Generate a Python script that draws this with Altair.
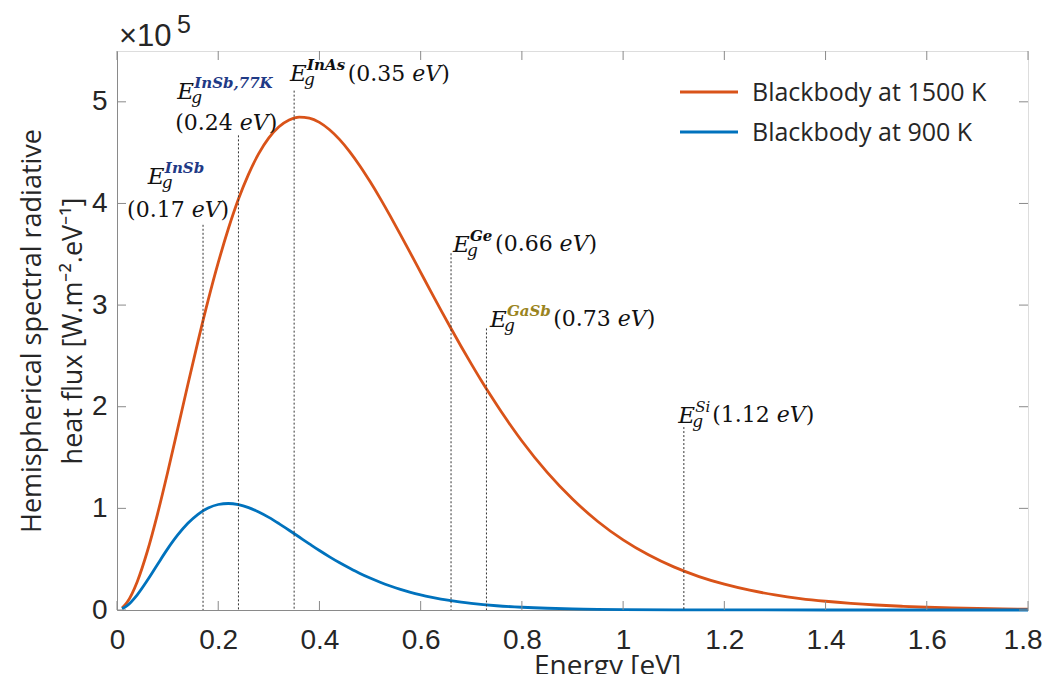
import altair as alt
import pandas as pd

# ---------------- data ----------------
series_names = ["Blackbody at 1500 K", "Blackbody at 900 K"]
series_colors = ["#D95319", "#0072BD"]

energy_1500 = [0.01, 0.02, 0.04, 0.06, 0.08, 0.10, 0.12, 0.14, 0.16, 0.18, 0.20, 0.22, 0.24,
               0.26, 0.28, 0.30, 0.32, 0.34, 0.36, 0.38, 0.40, 0.42, 0.44, 0.46, 0.48, 0.50,
               0.52, 0.54, 0.56, 0.58, 0.60, 0.62, 0.64, 0.66, 0.68, 0.70, 0.72, 0.74, 0.76,
               0.78, 0.80, 0.85, 0.90, 0.95, 1.00, 1.05, 1.10, 1.15, 1.20, 1.25, 1.30, 1.35,
               1.40, 1.45, 1.50, 1.55, 1.60, 1.65, 1.70, 1.75, 1.80]
flux_1500 = [0.020, 0.076, 0.279, 0.578, 0.944, 1.353, 1.784, 2.219, 2.643, 3.046, 3.417, 3.751,
             4.043, 4.289, 4.490, 4.645, 4.755, 4.822, 4.850, 4.840, 4.798, 4.725, 4.628, 4.508,
             4.369, 4.215, 4.050, 3.875, 3.694, 3.509, 3.322, 3.135, 2.951, 2.770, 2.593, 2.422,
             2.256, 2.097, 1.945, 1.801, 1.663, 1.354, 1.092, 0.871, 0.690, 0.543, 0.424, 0.329,
             0.254, 0.195, 0.149, 0.113, 0.086, 0.065, 0.049, 0.037, 0.027, 0.020, 0.015, 0.011,
             0.008]

energy_900 = [0.01, 0.02, 0.04, 0.06, 0.08, 0.10, 0.12, 0.14, 0.16, 0.18, 0.20, 0.22, 0.24,
              0.26, 0.28, 0.30, 0.32, 0.34, 0.36, 0.38, 0.40, 0.42, 0.44, 0.46, 0.48, 0.50,
              0.52, 0.54, 0.56, 0.58, 0.60, 0.62, 0.64, 0.66, 0.68, 0.70, 0.75, 0.80, 0.85,
              0.90, 0.95, 1.00, 1.10, 1.20, 1.40, 1.60, 1.80]
flux_900 = [0.012, 0.043, 0.150, 0.292, 0.448, 0.601, 0.738, 0.853, 0.942, 1.003, 1.038, 1.048,
            1.036, 1.007, 0.964, 0.911, 0.850, 0.785, 0.718, 0.651, 0.585, 0.523, 0.464, 0.410,
            0.359, 0.314, 0.273, 0.236, 0.203, 0.174, 0.149, 0.127, 0.108, 0.092, 0.077, 0.065,
            0.042, 0.027, 0.017, 0.011, 0.007, 0.004, 0.0015, 0.0005, 0.0001, 0.0, 0.0]

# band-gap markers
gap_materials = ["InSb", "InSb,77K", "InAs", "Ge", "GaSb", "Si"]
gap_energy = [0.17, 0.24, 0.35, 0.66, 0.73, 1.12]
gap_line_top = [3.79, 4.67, 5.11, 3.51, 2.77, 1.80]
gap_value_text = ["(0.17 ", "(0.24 ", "(0.35 ", "(0.66 ", "(0.73 ", "(1.12 "]
# where the labels sit (in data units)
label_e_x = [0.061, 0.119, 0.342, 0.664, 0.737, 1.109]
label_e_y = [4.19, 5.03, 5.20, 3.52, 2.78, 1.84]
label_val_x = [0.020, 0.115, 0.456, 0.747, 0.862, 1.176]
label_val_y = [3.87, 4.72, 5.20, 3.53, 2.79, 1.85]
label_group = ["blue", "blue", "black", "black", "olive", "plain"]

x_ticks = [0, 0.2, 0.4, 0.6, 0.8, 1.0, 1.2, 1.4, 1.6, 1.8]
y_ticks = [0, 1, 2, 3, 4, 5]

# ---------------- layout / style ----------------
W, H = 911, 559
AX = "#8a8a8a"
TXT = "#262626"
SERIF = "DejaVu Serif"
xs = alt.Scale(domain=[0, 1.8], nice=False, zero=False)
ys = alt.Scale(domain=[0, 5.5], nice=False, zero=False)

last_x = "datum.value >= 1.79"
x_axis = alt.Axis(values=x_ticks, format="~g", grid=False, ticks=False, tickSize=0,
                  domainColor=AX, labelFont="Liberation Sans", labelFontSize=28,
                  labelColor=TXT, labelPadding=16, title="Energy [eV]",
                  labelAlign={"condition": {"test": last_x, "value": "right"}, "value": "center"},
                  labelOffset={"condition": {"test": last_x, "value": 14}, "value": 0},
                  titleFont="Open Sans", titleFontSize=28, titleFontWeight="normal",
                  titleColor=TXT, titleX=490, titleY=64, titleBaseline="alphabetic",
                  titleAlign="center", labelFlush=False)
y_axis = alt.Axis(values=y_ticks, format="~g", grid=False, ticks=False, tickSize=0,
                  domainColor=AX, labelFont="Liberation Sans", labelFontSize=28,
                  labelColor=TXT, labelPadding=10,
                  title=["Hemispherical spectral radiative", "heat flux [W.m\u207b\u00b2.eV\u207b\u00b9]"],
                  titleFont="Open Sans", titleFontSize=27, titleFontWeight="normal",
                  titleColor=TXT, titleAngle=270, titleX=-85, titleY=H / 2,
                  titleBaseline="middle", titleAlign="center", titleLineHeight=41)


def X(f):
    return alt.X(f, scale=xs, axis=x_axis)


def Y(f):
    return alt.Y(f, scale=ys, axis=y_axis)


curve_df = pd.concat([
    pd.DataFrame({"E": energy_1500, "v": flux_1500, "series": series_names[0]}),
    pd.DataFrame({"E": energy_900, "v": flux_900, "series": series_names[1]}),
])

gap_df = pd.DataFrame({"E": gap_energy, "v": gap_line_top})
lab_df = pd.DataFrame({"E": label_e_x, "v": label_e_y, "sup": gap_materials, "grp": label_group})
val_df = pd.DataFrame({"E": label_val_x, "v": label_val_y, "t": gap_value_text})

curves = alt.Chart(curve_df).mark_line(strokeWidth=2.8, interpolate="monotone").encode(
    x=X("E:Q"),
    y=Y("v:Q"),
    color=alt.Color("series:N", scale=alt.Scale(domain=series_names, range=series_colors),
                    legend=None),
)

gap_lines = alt.Chart(gap_df).mark_rule(strokeDash=[2, 2], color="#333333", strokeWidth=1).encode(
    x=X("E:Q"),
    y=Y("v:Q"),
    y2=alt.datum(0),
)

# inward MATLAB style ticks
xt_df = pd.DataFrame({"E": x_ticks})
yt_df = pd.DataFrame({"v": y_ticks})
bt = alt.Chart(xt_df).mark_rule(color=AX, strokeWidth=1).encode(
    x=X("E:Q"), y=alt.value(H), y2=alt.value(H - 9))
tt = alt.Chart(xt_df).mark_rule(color=AX, strokeWidth=1).encode(
    x=X("E:Q"), y=alt.value(0), y2=alt.value(9))
lt = alt.Chart(yt_df).mark_rule(color=AX, strokeWidth=1).encode(
    y=Y("v:Q"), x=alt.value(0), x2=alt.value(9))
rt = alt.Chart(yt_df).mark_rule(color=AX, strokeWidth=1).encode(
    y=Y("v:Q"), x=alt.value(W - 9), x2=alt.value(W))


def txt(df, field, **kw):
    return alt.Chart(df).mark_text(align="left", baseline="alphabetic", font=SERIF, **kw).encode(
        x=X("E:Q"),
        y=Y("v:Q"),
        text=alt.Text(f"{field}:N"),
    )


e_letters = txt(lab_df.assign(e="E"), "e", fontSize=23, fontStyle="italic", color="#111111")
g_letters = txt(lab_df.assign(g="g"), "g", fontSize=17, fontStyle="italic", color="#111111",
                dx=14, dy=4)
sup_layers = []
sup_colors = {"blue": "#1F3A86", "black": "#111111", "olive": "#9A8420"}
for grp, col in sup_colors.items():
    sup_layers.append(txt(lab_df[lab_df.grp == grp], "sup", fontSize=15, fontStyle="italic",
                          fontWeight="bold", color=col, dx=17, dy=-11))
sup_layers.append(txt(lab_df[lab_df.grp == "plain"], "sup", fontSize=15, fontStyle="italic",
                      color="#111111", dx=17, dy=-11))

VS = 22
w_num = 2.934 * VS
w_ev = 1.314 * VS
val_num = txt(val_df, "t", fontSize=VS, color="#111111")
val_ev = txt(val_df.assign(u="eV"), "u", fontSize=VS, fontStyle="italic", color="#111111", dx=w_num)
val_close = txt(val_df.assign(c=")"), "c", fontSize=VS, color="#111111", dx=w_num + w_ev)

# legend (drawn by hand, MATLAB style)
leg_df = pd.DataFrame({"series": series_names, "row": [0, 1]})
leg_lines = []
leg_texts = []
for i, (name, col) in enumerate(zip(series_names, series_colors)):
    d = leg_df[leg_df.row == i]
    yy = 41 + i * 40
    leg_lines.append(alt.Chart(d).mark_rule(color=col, strokeWidth=3).encode(
        x=alt.value(563), x2=alt.value(621), y=alt.value(yy)))
    leg_texts.append(alt.Chart(d).mark_text(
        align="left", baseline="middle", font="Open Sans", fontSize=25, color=TXT).encode(
        x=alt.value(635), y=alt.value(yy + 1), text="series:N"))

mult = alt.Chart(pd.DataFrame({"t": ["\u00d710"]})).mark_text(
    align="left", baseline="alphabetic", font="Liberation Sans", fontSize=31, color=TXT).encode(
    x=alt.value(2), y=alt.value(-5), text="t:N")
mult_exp = alt.Chart(pd.DataFrame({"t": ["5"]})).mark_text(
    align="left", baseline="alphabetic", font="Liberation Sans", fontSize=25, color=TXT).encode(
    x=alt.value(60), y=alt.value(-18), text="t:N")

chart = alt.layer(
    curves, gap_lines, bt, tt, lt, rt, e_letters, g_letters, *sup_layers,
    val_num, val_ev, val_close, *leg_lines, *leg_texts, mult, mult_exp,
).properties(
    width=W, height=H,
    padding={"left": 109, "top": 43, "right": 15, "bottom": 64},
    autosize="none",
).configure_view(stroke=AX, strokeWidth=1).configure(background="white")

chart.save("out.html", embed_options={"renderer": "svg", "actions": False})
